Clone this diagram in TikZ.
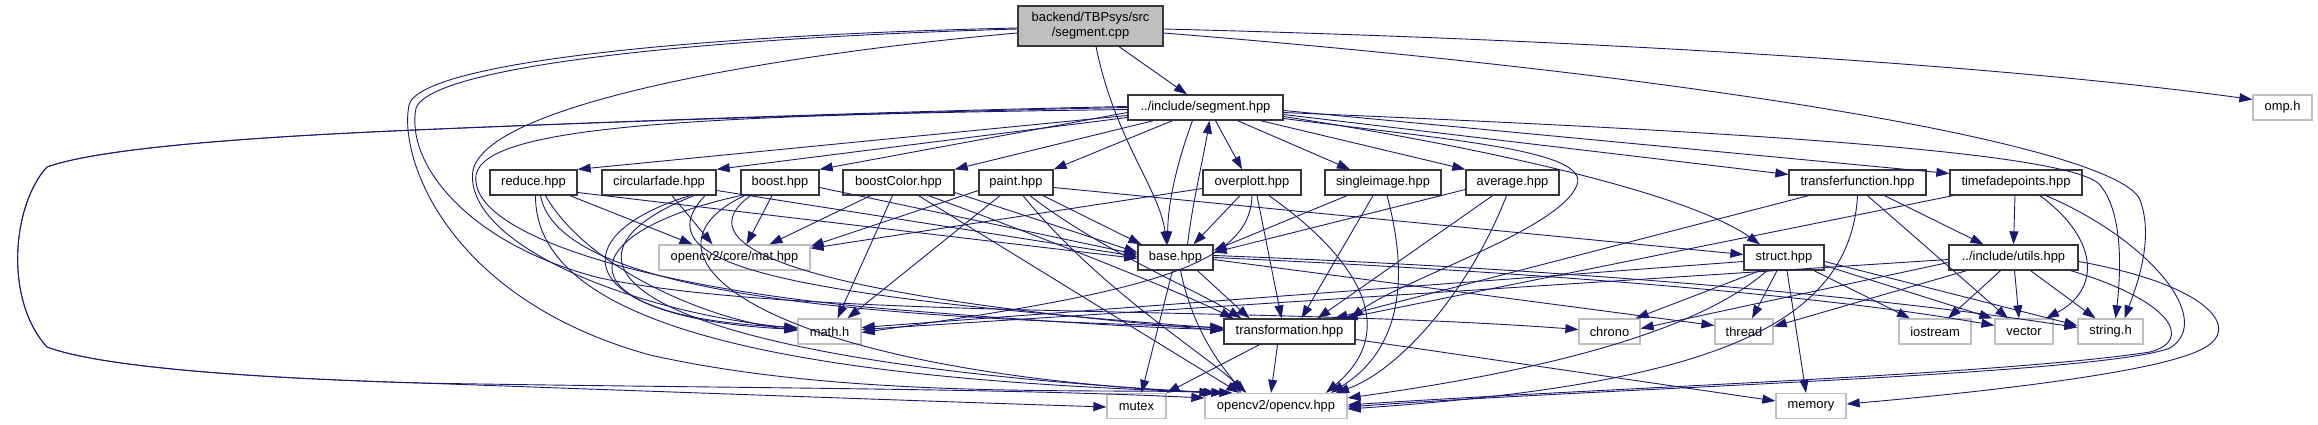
\documentclass[tikz,border=0pt]{standalone}
\usepackage{fontspec}
\setmainfont{Liberation Sans}
\usetikzlibrary{arrows.meta}
\definecolor{edgeblue}{HTML}{191970}
\definecolor{boxgray}{HTML}{BFBFBF}
\tikzset{
  hdr/.style={draw=black!78, line width=1.3pt, fill=white, minimum height=25pt, inner sep=0pt, font=\fontsize{12.9}{15}\selectfont},
  sys/.style={draw=boxgray, line width=1.3pt, fill=white, minimum height=25pt, inner sep=0pt, font=\fontsize{12.9}{15}\selectfont},
  e/.style={draw=edgeblue, line width=0.9pt, -{Triangle[length=13pt,width=9pt]}}
}
\begin{document}
\begin{tikzpicture}[x=1pt,y=-1pt]
\useasboundingbox (0,0) rectangle (2318,425);
% nodes
\node[hdr, fill=boxgray, minimum width=145pt, minimum height=40pt, align=center] (cpp) at (1090.5,26) {backend/TBPsys/src\\/segment.cpp};
\node[hdr, minimum width=155pt] (seg) at (1205.5,107.5) {../include/segment.hpp};
\node[sys, minimum width=59pt] (omp) at (2282.5,107.5) {omp.h};
\node[hdr, minimum width=87pt] (reduce) at (533.5,182.5) {reduce.hpp};
\node[hdr, minimum width=114pt] (circ) at (659,182.5) {circularfade.hpp};
\node[hdr, minimum width=78pt] (boost) at (780,182.5) {boost.hpp};
\node[hdr, minimum width=111pt] (bcolor) at (898.5,182.5) {boostColor.hpp};
\node[hdr, minimum width=74pt] (paint) at (1016,182.5) {paint.hpp};
\node[hdr, minimum width=98pt] (overplott) at (1252,182.5) {overplott.hpp};
\node[hdr, minimum width=116pt] (single) at (1383,182.5) {singleimage.hpp};
\node[hdr, minimum width=93pt] (average) at (1512.5,182.5) {average.hpp};
\node[hdr, minimum width=137pt] (transfer) at (1857.5,182.5) {transferfunction.hpp};
\node[hdr, minimum width=132pt] (timefade) at (2016,182.5) {timefadepoints.hpp};
\node[sys, minimum width=151pt] (mat) at (734.5,257.5) {opencv2/core/mat.hpp};
\node[hdr, minimum width=75pt] (base) at (1175.5,257.5) {base.hpp};
\node[hdr, minimum width=80pt] (struct) at (1784,257.5) {struct.hpp};
\node[hdr, minimum width=129pt] (utils) at (2013.5,257.5) {../include/utils.hpp};
\node[sys, minimum width=63pt] (math) at (829.5,331.5) {math.h};
\node[hdr, minimum width=131pt] (transf) at (1289.5,331.5) {transformation.hpp};
\node[sys, minimum width=61pt] (chrono) at (1609.5,331.5) {chrono};
\node[sys, minimum width=58pt] (thread) at (1744,331.5) {thread};
\node[sys, minimum width=72pt] (iostream) at (1935,331.5) {iostream};
\node[sys, minimum width=58pt] (vector) at (2024,331.5) {vector};
\node[sys, minimum width=65pt] (string) at (2110.5,331.5) {string.h};
\node[sys, minimum width=59pt] (mutex) at (1136.5,406) {mutex};
\node[sys, minimum width=142pt] (opencv) at (1276,406) {opencv2/opencv.hpp};
\node[sys, minimum width=70pt] (memory) at (1811,406) {memory};

% segment.cpp
\draw[e] ([xshift=28.5pt]cpp.south) -- ([xshift=-18.5pt]seg.north);
\draw[e] ([xshift=5.5pt]cpp.south) .. controls (1115,140) and (1160,190) .. ([xshift=-9pt]base.north);
\draw[e] ([yshift=-3pt]cpp.east) .. controls (1600,40) and (2000,65) .. ([yshift=8pt]omp.west);
\draw[e] ([yshift=-7pt]cpp.east) .. controls (1750,80) and (2120,150) .. (2140,200) .. controls (2155,240) and (2135,290) .. ([xshift=14pt]string.north);
\draw[e] ([yshift=-2pt]cpp.west) .. controls (700,35) and (420,62) .. (409,105) .. controls (398,160) and (450,300) .. (650,355) .. controls (850,400) and (1100,388) .. ([xshift=20pt]opencv.north west);
\draw[e] ([yshift=-3pt]cpp.west) .. controls (700,38) and (432,66) .. (416,108) .. controls (405,165) and (470,245) .. (600,278) .. controls (800,320) and (1250,305) .. ([yshift=2pt]chrono.west);
\draw[e] ([yshift=-7pt]cpp.west) .. controls (800,52) and (490,100) .. (473,170) .. controls (462,240) and (620,310) .. ([yshift=3pt]math.west);

% segment.hpp
\draw[e] ([yshift=-5pt]seg.east) .. controls (1700,130) and (2070,150) .. (2100,185) .. controls (2125,215) and (2120,280) .. ([xshift=5pt]string.north);
\draw[e] ([yshift=-7pt]seg.east) -- ([yshift=8pt]transfer.west);
\draw[e] ([yshift=-3pt]seg.east) -- ([yshift=9pt]timefade.west);
\draw[e] ([yshift=-9pt]seg.east) .. controls (1500,150) and (1690,195) .. ([xshift=-24pt]struct.north);
\draw[e] ([yshift=-11pt]seg.east) .. controls (1450,140) and (1590,150) .. (1577,185) .. controls (1560,230) and (1400,280) .. ([xshift=-5pt]transf.north east);
\draw[e] ([xshift=10pt]seg.south) -- ([xshift=-10pt]overplott.north);
\draw[e] ([xshift=32pt]seg.south) -- ([xshift=-33pt]single.north);
\draw[e] ([xshift=55pt]seg.south) -- (average.north west);
\draw[e] ([xshift=-13pt]seg.south) .. controls (1178,160) and (1168,200) .. ([xshift=-8pt]base.north);
\draw[e] ([yshift=-8pt]seg.west) -- (reduce.north east);
\draw[e] ([yshift=-10pt]seg.west) -- (circ.north east);
\draw[e] ([yshift=-5pt]seg.west) -- (boost.north east);
\draw[e] ([xshift=-52pt]seg.south) -- (bcolor.north east);
\draw[e] ([xshift=-33pt]seg.south) -- (paint.north east);
\draw[e] ([yshift=1pt]seg.west) .. controls (900,111) and (600,122) .. (415,130) .. controls (250,137) and (100,148) .. (47,167) .. controls (12,205) and (4,300) .. (47,347) .. controls (100,367) and (250,378) .. (420,383) .. controls (700,393) and (950,402) .. ([yshift=-1pt]mutex.west);
\draw[e] ([yshift=0pt]seg.west) .. controls (900,112) and (600,122) .. (415,130) .. controls (250,137) and (100,148) .. (47,167) .. controls (12,205) and (4,300) .. (47,347) .. controls (100,367) and (250,378) .. (420,383) .. controls (700,388) and (1000,388) .. ([yshift=8pt]opencv.west);
\draw[e] ([yshift=-2pt]seg.west) .. controls (700,115) and (485,125) .. (476,175) .. controls (468,235) and (650,290) .. (900,310) .. controls (1050,322) and (1150,328) .. ([yshift=2pt]transf.west);

% reduce
\draw[e] ([xshift=36.5pt]reduce.south) -- ([xshift=-42pt]mat.north);
\draw[e] ([yshift=-10pt]reduce.east) -- ([yshift=-1pt]base.west);
\draw[e] ([xshift=12pt]reduce.south) .. controls (585,265) and (700,318) .. ([yshift=1pt]math.west);
\draw[e] ([xshift=2pt]reduce.south) .. controls (535,330) and (800,380) .. ([xshift=28pt]opencv.north west);
\draw[e] ([xshift=7pt]reduce.south) .. controls (560,300) and (900,318) .. ([yshift=4pt]transf.west);

% circularfade
\draw[e] ([xshift=13pt]circ.south) -- ([xshift=-22pt]mat.north);
\draw[e] ([yshift=-8pt]circ.east) -- ([yshift=1pt]base.west);
\draw[e] ([xshift=31pt]circ.south) .. controls (560,235) and (570,318) .. ([yshift=2pt]math.west);
\draw[e] ([xshift=35pt]circ.south) .. controls (530,260) and (620,360) .. ([xshift=12pt]opencv.north west);
\draw[e] ([xshift=46pt]circ.south) .. controls (640,265) and (780,295) .. ([yshift=3pt]transf.west);

% boost
\draw[e] ([xshift=-8pt]boost.south) -- ([xshift=12pt]mat.north);
\draw[e] ([yshift=-5pt]boost.east) -- ([yshift=3pt]base.west);
\draw[e] (boost.south west) .. controls (560,235) and (565,318) .. ([yshift=4pt]math.west);
\draw[e] ([xshift=4pt]boost.south west) .. controls (620,255) and (760,370) .. ([xshift=8pt]opencv.north west);
\draw[e] ([xshift=10pt]boost.south west) .. controls (690,240) and (760,292) .. ([yshift=1pt]transf.west);

% boostColor
\draw[e] ([xshift=-28pt]bcolor.south) -- ([xshift=35pt]mat.north);
\draw[e] ([yshift=-10pt]bcolor.east) -- ([yshift=5pt]base.west);
\draw[e] ([xshift=-6pt]bcolor.south) -- ([xshift=8pt]math.north);
\draw[e] ([xshift=20pt]bcolor.south) -- ([xshift=35pt]opencv.north west);
\draw[e] ([xshift=30pt]bcolor.south) .. controls (1050,240) and (1180,292) .. ([xshift=10pt]transf.north west);

% paint
\draw[e] ([yshift=-8pt]paint.west) -- ([yshift=-2pt]mat.north east);
\draw[e] ([xshift=27pt]paint.south) -- ([xshift=4pt]base.north west);
\draw[e] ([xshift=-16pt]paint.south) -- ([xshift=18pt]math.north);
\draw[e] ([xshift=7pt]paint.south) .. controls (1100,290) and (1200,350) .. ([xshift=42pt]opencv.north west);
\draw[e] ([xshift=14pt]paint.south) .. controls (1100,250) and (1200,292) .. ([xshift=18pt]transf.north west);
\draw[e] ([yshift=-5pt]paint.east) -- ([yshift=3pt]struct.west);

% overplott
\draw[e] ([yshift=-6pt]overplott.west) -- ([yshift=-4pt]mat.north east);
\draw[e] ([xshift=-12pt]overplott.south) -- ([xshift=18pt]base.north);
\draw[e] (overplott.south) .. controls (1250,265) and (1150,292) .. ([yshift=-1pt]math.east);
\draw[e] ([xshift=5pt]overplott.south) -- ([xshift=-8pt]transf.north);
\draw[e] ([xshift=17pt]overplott.south) .. controls (1360,260) and (1400,330) .. ([xshift=50pt]opencv.north);

% singleimage
\draw[e] ([xshift=-36pt]single.south) -- ([yshift=7pt]base.east);
\draw[e] ([xshift=-10pt]single.south) -- ([xshift=12pt]transf.north);
\draw[e] ([xshift=4pt]single.south) .. controls (1410,280) and (1400,350) .. ([xshift=55pt]opencv.north);

% average
\draw[e] ([yshift=-7pt]average.west) -- ([yshift=5pt]base.east);
\draw[e] ([xshift=-20pt]average.south) -- ([xshift=28pt]transf.north);
\draw[e] ([xshift=-6pt]average.south) .. controls (1470,290) and (1400,370) .. ([xshift=60pt]opencv.north);

% transferfunction
\draw[e] ([xshift=-49pt]transfer.south) -- ([xshift=45pt]transf.north);
\draw[e] (transfer.south) .. controls (1850,330) and (1700,385) .. ([yshift=-3pt]opencv.east);
\draw[e] ([xshift=10pt]transfer.south) -- ([xshift=-16pt]vector.north);
\draw[e] ([xshift=27pt]transfer.south) -- ([xshift=-30pt]utils.north);

% timefadepoints
\draw[e] ([xshift=-1pt]timefade.south) -- (utils.north);
\draw[e] ([xshift=-63pt]timefade.south) -- ([xshift=55pt]transf.north);
\draw[e] ([xshift=24pt]timefade.south) .. controls (2100,240) and (2100,290) .. ([xshift=22pt]vector.north);
\draw[e] ([xshift=30pt]timefade.south) .. controls (2150,240) and (2215,320) .. (2170,348) .. controls (2100,375) and (1600,388) .. ([yshift=-1pt]opencv.east);

% utils
\draw[e] ([xshift=-13pt]utils.south) -- ([xshift=13pt]iostream.north);
\draw[e] ([xshift=1pt]utils.south) -- ([xshift=-5pt]vector.north);
\draw[e] ([xshift=17pt]utils.south) -- ([xshift=-15pt]string.north);
\draw[e] ([xshift=-47pt]utils.south) -- ([yshift=5pt]thread.east);
\draw[e] ([yshift=-5pt]utils.west) -- ([yshift=3pt]chrono.east);
\draw[e] ([yshift=-2pt]utils.west) -- ([yshift=2pt]math.east);
\draw[e] ([xshift=-8pt]utils.south east) .. controls (2170,300) and (2195,340) .. (2150,352) .. controls (2000,375) and (1600,388) .. ([yshift=1pt]opencv.east);
\draw[e] ([yshift=-4pt]utils.east) .. controls (2210,285) and (2245,330) .. (2200,350) .. controls (2150,375) and (1950,395) .. ([yshift=2pt]memory.east);

% struct
\draw[e] ([xshift=-24pt]struct.south) -- ([xshift=-5pt]chrono.north east);
\draw[e] ([xshift=-7pt]struct.south) -- ([xshift=8pt]thread.north);
\draw[e] ([xshift=3pt]struct.south) -- ([xshift=-5pt]memory.north);
\draw[e] ([xshift=30pt]struct.south) -- ([xshift=-25pt]iostream.north);
\draw[e] ([yshift=-8pt]struct.east) -- ([xshift=-2pt]vector.north west);
\draw[e] ([yshift=-4pt]struct.east) -- ([yshift=6pt]string.west);
\draw[e] ([xshift=-17pt]struct.south) .. controls (1700,330) and (1550,370) .. ([yshift=8pt]opencv.east);
\draw[e] ([yshift=-4pt]struct.west) -- ([yshift=4pt]math.east);

% base
\draw[e] ([xshift=12pt]base.north) .. controls (1193,200) and (1203,160) .. ([xshift=4pt]seg.south);
\draw[e] ([xshift=-3pt]base.south) -- ([xshift=5pt]mutex.north);
\draw[e] ([xshift=5pt]base.south) .. controls (1195,340) and (1230,375) .. ([xshift=-35pt]opencv.north);
\draw[e] ([xshift=22pt]base.south) -- ([xshift=-40pt]transf.north);
\draw[e] ([yshift=-2pt]base.east) -- ([yshift=6pt]thread.west);
\draw[e] ([yshift=2pt]base.east) .. controls (1600,270) and (1900,300) .. ([yshift=4pt]string.west);
\draw[e] ([yshift=0pt]base.east) .. controls (1600,275) and (1850,300) .. ([yshift=6pt]vector.west);

% transformation
\draw[e] ([xshift=-30pt]transf.south) -- (mutex.north east);
\draw[e] ([xshift=-12pt]transf.south) -- ([xshift=-5pt]opencv.north);
\draw[e] ([yshift=-8pt]transf.east) -- ([yshift=5pt]memory.west);
\end{tikzpicture}
\end{document}
